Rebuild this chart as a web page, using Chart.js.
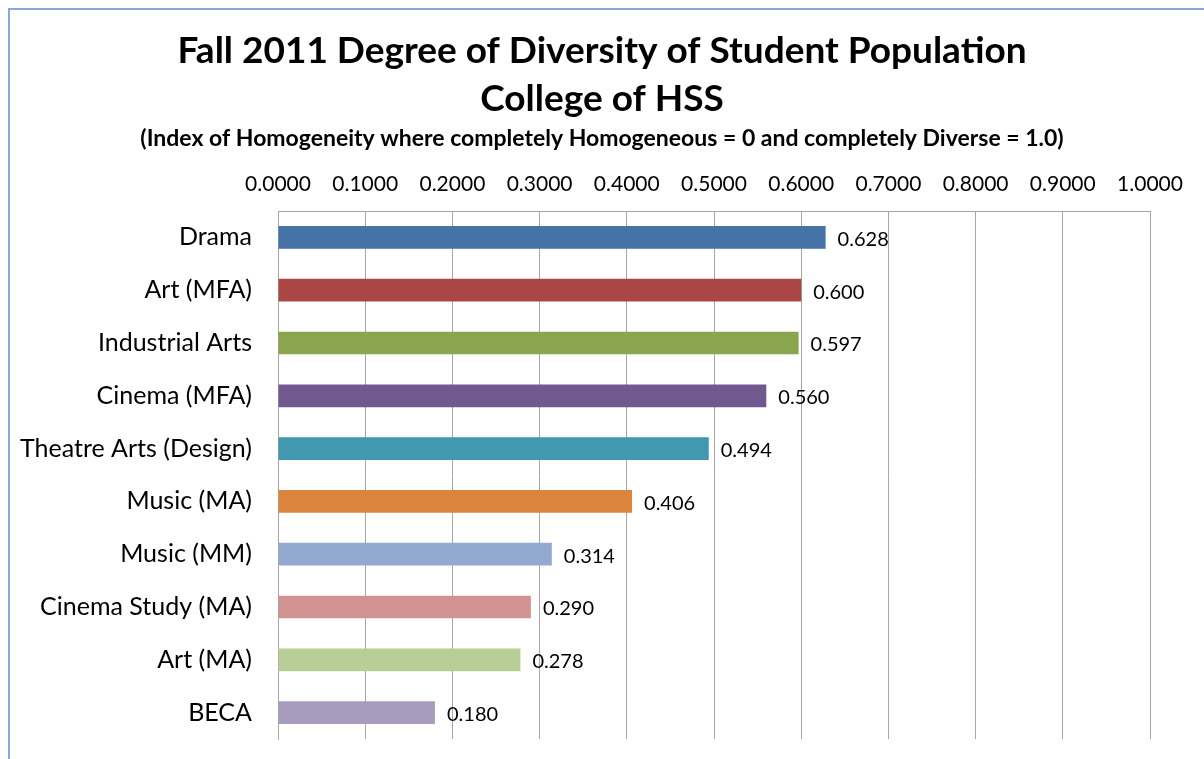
<!DOCTYPE html>
<html>
<head>
<meta charset="utf-8">
<script src="https://cdn.jsdelivr.net/npm/chart.js@4"></script>
<style>
  html, body { margin: 0; padding: 0; background: #fff; overflow: hidden; }
  #frame { position: absolute; left: 8px; top: 8px; width: 1400px; height: 1000px;
           border-left: 2px solid #8aa8d4; border-top: 2px solid #8aa8d4; }
  #wrap { position: absolute; left: 0; top: 0; width: 1204px; height: 759px; }
</style>
</head>
<body>
<div id="frame"></div>
<div id="wrap"><canvas id="plots"></canvas></div>
<script>
// categories, top to bottom
var programs = ["Drama", "Art (MFA)", "Industrial Arts", "Cinema (MFA)", "Theatre Arts (Design)",
                "Music (MA)", "Music (MM)", "Cinema Study (MA)", "Art (MA)", "BECA"];
// diversity index values
var diversity = [0.628, 0.600, 0.597, 0.560, 0.494, 0.406, 0.314, 0.290, 0.278, 0.180];
// one colour per bar
var barColors = ["#4572A7", "#AA4643", "#89A54E", "#71588F", "#4198AF",
                 "#DB843D", "#93A9CF", "#D19392", "#B9CD96", "#A99BBD"];
// x-axis tick values
var xTicks = [0, 0.1, 0.2, 0.3, 0.4, 0.5, 0.6, 0.7, 0.8, 0.9, 1.0];

var titleLines = ["Fall 2011 Degree of Diversity of Student Population", "College of HSS"];
var subtitleText = "(Index of Homogeneity where completely Homogeneous = 0 and completely Diverse = 1.0)";

var FONT = "Lato, 'Open Sans', sans-serif";
var gridColor = "#a6a6a6";

// value labels next to each bar end
var valueLabels = {
    id: "valueLabels",
    afterDatasetsDraw: function (chart) {
        var ctx = chart.ctx;
        var meta = chart.getDatasetMeta(0);
        ctx.save();
        ctx.font = "20px " + FONT;
        ctx.fillStyle = "#000";
        ctx.textAlign = "left";
        ctx.textBaseline = "middle";
        meta.data.forEach(function (bar, i) {
            ctx.fillText(diversity[i].toFixed(3), bar.x + 12, bar.y + 2);
        });
        ctx.restore();
    }
};

plots = document.getElementById("plots");
new Chart(plots, {
    type: 'bar',
    data: {
        labels: programs,
        datasets: [{
            data: diversity,
            backgroundColor: barColors,
            borderWidth: 0,
            barPercentage: 0.43,
            categoryPercentage: 1.0
        }]
    },
    options: {
        indexAxis: 'y',
        responsive: true,
        maintainAspectRatio: false,
        animation: false,
        layout: { padding: { left: 0, right: 0, top: 0, bottom: 20 } },
        plugins: {
            legend: { display: false },
            tooltip: { enabled: false },
            title: {
                display: true,
                text: titleLines,
                color: "#000",
                font: { family: FONT, size: 37, weight: "bold", lineHeight: 1.3 },
                padding: { top: 27, bottom: 2 }
            },
            subtitle: {
                display: true,
                text: subtitleText,
                color: "#000",
                font: { family: FONT, size: 23, weight: "bold", lineHeight: 1.2 },
                padding: { top: 0, bottom: 5 }
            }
        },
        scales: {
            x: {
                position: 'top',
                min: 0,
                max: 1,
                afterBuildTicks: function (scale) {
                    scale.ticks = xTicks.map(function (v) { return { value: v }; });
                },
                afterFit: function (scale) { scale.paddingRight = 54; },
                ticks: {
                    color: "#000",
                    font: { family: FONT, size: 21 },
                    padding: 14,
                    maxRotation: 0,
                    callback: function (v) { return Number(v).toFixed(4); }
                },
                grid: { color: gridColor, drawTicks: false },
                border: { color: gridColor }
            },
            y: {
                afterFit: function (scale) {
                    scale.width = 278;
                    scale.paddingTop = 0;
                    scale.paddingBottom = 0;
                },
                ticks: {
                    color: "#000",
                    font: { family: FONT, size: 25 },
                    padding: 26
                },
                grid: { display: false, drawTicks: false },
                border: { color: gridColor }
            }
        }
    },
    plugins: [valueLabels]
});
</script>
</body>
</html>
